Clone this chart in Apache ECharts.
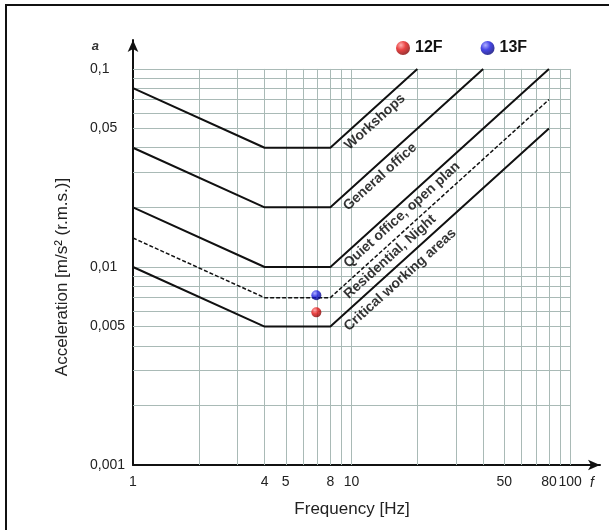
<!DOCTYPE html>
<html>
<head>
<meta charset="utf-8">
<script src="https://cdn.jsdelivr.net/npm/echarts@6/dist/echarts.min.js"></script>
<style>
html,body{margin:0;padding:0;background:#fff;}
#chart{width:609px;height:532px;}
</style>
</head>
<body>
<div id="chart"></div>
<script>
// ---- data ----
const xGridValues = [2, 3, 4, 5, 6, 7, 8, 9, 10, 20, 30, 40, 50, 60, 70, 80, 90, 100];
const yGridValues = [0.002, 0.003, 0.004, 0.005, 0.006, 0.007, 0.008, 0.009, 0.01,
                     0.02, 0.03, 0.04, 0.05, 0.06, 0.07, 0.08, 0.09, 0.1];
const xTickLabels = [1, 4, 5, 8, 10, 50, 80, 100];
const yTickLabels = [0.001, 0.005, 0.01, 0.05, 0.1];

const workshops        = [[1, 0.08],  [4, 0.04],  [8, 0.04],  [20, 0.1]];
const generalOffice    = [[1, 0.04],  [4, 0.02],  [8, 0.02],  [40, 0.1]];
const quietOffice      = [[1, 0.02],  [4, 0.01],  [8, 0.01],  [80, 0.1]];
const residentialNight = [[1, 0.014], [4, 0.007], [8, 0.007], [80, 0.07]];
const criticalAreas    = [[1, 0.01],  [4, 0.005], [8, 0.005], [80, 0.05]];

const curveNames = ['Workshops', 'General office', 'Quiet office, open plan', 'Residential, Night', 'Critical working areas'];
const curveLabelAnchors = [[12.8, 0.054], [13.5, 0.0285], [17.0, 0.0183], [15.0, 0.01125], [16.7, 0.0086]];

const floor12F = [[6.9, 0.0059]];
const floor13F = [[6.9, 0.0072]];

// ---- chart ----
const xMin = 1, xMax = 137, yMin = 0.001, yMax = 0.14, gridTopValue = 0.1, gridRightValue = 100;
const FONT = 'Liberation Sans, Arial, sans-serif';
const gridColor = '#a9bab6';

function fmtNum(v) { return String(Number(Number(v).toPrecision(6))); }

const gridSegments = [];
xGridValues.forEach(v => gridSegments.push([{ coord: [v, yMin] }, { coord: [v, gridTopValue] }]));
yGridValues.forEach(v => gridSegments.push([{ coord: [xMin, v] }, { coord: [gridRightValue, v] }]));

function sphere(light, mid, dark) {
  return new echarts.graphic.RadialGradient(0.35, 0.3, 0.75, [
    { offset: 0, color: light },
    { offset: 0.45, color: mid },
    { offset: 1, color: dark }
  ]);
}

function curve(name, data, dashed) {
  return {
    name: name, type: 'line', data: data, symbol: 'none', silent: true, z: 3,
    lineStyle: { color: '#111', width: dashed ? 1.5 : 2, type: dashed ? [4, 2] : 'solid' }
  };
}

const chart = echarts.init(document.getElementById('chart'), null, { renderer: 'canvas' });
chart.setOption({
  animation: false,
  backgroundColor: '#fff',
  grid: { left: 133, right: 9, top: 40, bottom: 67, containLabel: false },
  legend: {
    data: ['12F', '13F'], left: 391, top: 35, icon: 'circle',
    itemWidth: 14, itemHeight: 14, itemGap: 38,
    textStyle: { fontFamily: FONT, fontSize: 16, fontWeight: 'bold', color: '#111' },
    selectedMode: false
  },
  xAxis: {
    type: 'log', logBase: 10, min: xMin, max: xMax,
    axisLine: { show: true, onZero: false, lineStyle: { color: '#111', width: 2 }, symbol: ['none', 'arrow'], symbolSize: [8, 12] },
    axisTick: { show: false },
    splitLine: { show: false },
    minorTick: { show: false }, minorSplitLine: { show: false },
    axisLabel: { customValues: xTickLabels, fontFamily: FONT, fontSize: 14, color: '#222', margin: 10,
                 formatter: v => fmtNum(v) },
    name: 'f', nameLocation: 'end', nameGap: -10,
    nameTextStyle: { fontFamily: FONT, fontStyle: 'italic', fontSize: 14, color: '#222', verticalAlign: 'top', align: 'left', padding: [11, 0, 0, 0] }
  },
  yAxis: {
    type: 'log', logBase: 10, min: yMin, max: yMax,
    axisLine: { show: true, onZero: false, lineStyle: { color: '#111', width: 2 }, symbol: ['none', 'arrow'], symbolSize: [8, 12] },
    axisTick: { show: false },
    splitLine: { show: false },
    minorTick: { show: false }, minorSplitLine: { show: false },
    axisLabel: { customValues: yTickLabels, fontFamily: FONT, fontSize: 14, color: '#222', margin: 43, align: 'left',
                 formatter: v => fmtNum(v).replace('.', ',') },
    name: 'a', nameLocation: 'end', nameGap: -6,
    nameTextStyle: { fontFamily: FONT, fontStyle: 'italic', fontWeight: 'bold', fontSize: 13, color: '#333', align: 'right', verticalAlign: 'middle', padding: [0, 34, 0, 0] }
  },
  series: [
    {
      name: 'grid', type: 'line', data: [], silent: true, z: 1,
      markLine: {
        silent: true, symbol: ['none', 'none'], animation: false, z: 1,
        label: { show: false },
        lineStyle: { color: gridColor, width: 1, type: 'solid' },
        emphasis: { disabled: true },
        data: gridSegments
      }
    },
    curve(curveNames[0], workshops, false),
    curve(curveNames[1], generalOffice, false),
    curve(curveNames[2], quietOffice, false),
    curve(curveNames[3], residentialNight, true),
    curve(curveNames[4], criticalAreas, false),
    {
      name: 'labels', type: 'scatter', silent: true, z: 4, symbolSize: 0,
      data: curveLabelAnchors.map((p, i) => ({ value: p, name: curveNames[i] })),
      label: { show: true, position: 'inside', formatter: '{b}', rotate: 42,
               fontFamily: FONT, fontSize: 14, fontWeight: 'bold', color: '#000',
               align: 'center', verticalAlign: 'middle' }
    },
    {
      name: '12F', type: 'scatter', data: floor12F, symbol: 'circle', symbolSize: 10, z: 6,
      itemStyle: { color: sphere('#ff9a9a', '#e41515', '#7a0000') }
    },
    {
      name: '13F', type: 'scatter', data: floor13F, symbol: 'circle', symbolSize: 10, z: 6,
      itemStyle: { color: sphere('#9a9aff', '#1818e0', '#00006e') }
    }
  ],
  graphic: [
    { type: 'line', shape: { x1: 6, y1: 5, x2: 6, y2: 530 }, style: { stroke: '#111', lineWidth: 2 }, silent: true },
    { type: 'line', shape: { x1: 5, y1: 5, x2: 609, y2: 5 }, style: { stroke: '#111', lineWidth: 2 }, silent: true },
    { type: 'text', x: 62, y: 277, rotation: Math.PI / 2, silent: true,
      style: { text: 'Acceleration [m/s\u00b2 (r.m.s.)]', font: '17px ' + FONT, fill: '#222', align: 'center', verticalAlign: 'middle' } },
    { type: 'text', x: 352, y: 509, silent: true,
      style: { text: 'Frequency [Hz]', font: '17px ' + FONT, fill: '#222', align: 'center', verticalAlign: 'middle' } }
  ]
});
</script>
</body>
</html>
